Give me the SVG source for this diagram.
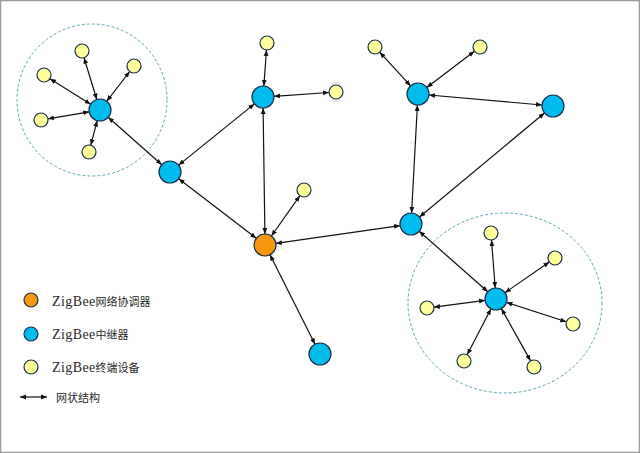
<svg xmlns="http://www.w3.org/2000/svg" width="640" height="453" viewBox="0 0 640 453">
<defs>
<style>
.relay{fill:#00bbee;stroke:#1a2f4a;stroke-width:1.2}
.coord{fill:#f7960f;stroke:#1a2f4a;stroke-width:1.2}
.end{fill:#ffff9c;stroke:#1a2f4a;stroke-width:1.2}
.zone{fill:none;stroke:#5aa8b0;stroke-width:1;stroke-dasharray:3,2}
.edge{stroke:#111;stroke-width:1.2;fill:none;marker-start:url(#ah);marker-end:url(#ah)}
.lbl{font-family:"Liberation Serif","Noto Sans CJK SC",serif;font-size:14px;letter-spacing:0.4px;fill:#2a2a2a}
.cjk{font-family:"Noto Sans CJK SC",sans-serif;font-size:11px;letter-spacing:0}
</style>
<marker id="ah" viewBox="0 0 6 6" refX="6" refY="3" markerWidth="6" markerHeight="6" markerUnits="userSpaceOnUse" orient="auto-start-reverse">
<path d="M0,0.6 L6,3 L0,5.4 z" fill="#111"/>
</marker>
</defs>
<rect x="0.5" y="0.5" width="639" height="452" fill="#fff" stroke="#999" stroke-width="1.5"/>
<g id="zones">
<ellipse class="zone" cx="92" cy="100" rx="75" ry="76"/>
<ellipse class="zone" cx="505" cy="303" rx="97" ry="90"/>
</g>
<g id="connectors">
<line class="edge" x1="96.8" y1="99.5" x2="84.0" y2="57.7"/>
<line class="edge" x1="106.7" y1="101.3" x2="129.7" y2="71.5"/>
<line class="edge" x1="90.7" y1="104.2" x2="49.9" y2="78.7"/>
<line class="edge" x1="89.2" y1="111.8" x2="47.9" y2="118.8"/>
<line class="edge" x1="97.2" y1="120.6" x2="90.8" y2="145.2"/>
<line class="edge" x1="108.2" y1="117.3" x2="161.8" y2="164.7"/>
<line class="edge" x1="178.6" y1="165.1" x2="254.4" y2="103.9"/>
<line class="edge" x1="178.7" y1="178.7" x2="256.3" y2="238.3"/>
<line class="edge" x1="263.8" y1="86.0" x2="266.5" y2="50.0"/>
<line class="edge" x1="274.0" y1="96.3" x2="329.0" y2="92.5"/>
<line class="edge" x1="263.1" y1="108" x2="264.9" y2="234"/>
<line class="edge" x1="271.4" y1="236.0" x2="299.9" y2="195.7"/>
<line class="edge" x1="275.9" y1="243.4" x2="400.1" y2="225.6"/>
<line class="edge" x1="270.0" y1="254.8" x2="315.0" y2="344.2"/>
<line class="edge" x1="410.6" y1="85.9" x2="379.7" y2="52.2"/>
<line class="edge" x1="426.8" y1="87.4" x2="474.4" y2="51.2"/>
<line class="edge" x1="429.0" y1="95.0" x2="542.0" y2="105.0"/>
<line class="edge" x1="417.4" y1="105.0" x2="411.6" y2="213.0"/>
<line class="edge" x1="544.5" y1="113.0" x2="419.5" y2="217.0"/>
<line class="edge" x1="419.2" y1="231.3" x2="487.8" y2="291.7"/>
<line class="edge" x1="495.2" y1="288.0" x2="491.5" y2="240.0"/>
<line class="edge" x1="505.0" y1="292.7" x2="549.3" y2="262.0"/>
<line class="edge" x1="485.1" y1="300.4" x2="433.9" y2="307.1"/>
<line class="edge" x1="506.5" y1="302.4" x2="566.3" y2="321.8"/>
<line class="edge" x1="491.0" y1="308.8" x2="467.2" y2="354.8"/>
<line class="edge" x1="501.4" y1="308.6" x2="530.6" y2="360.9"/>
</g>
<g id="relay-A"><circle class="relay" cx="100" cy="110" r="11"/></g>
<g id="relay-B"><circle class="relay" cx="170" cy="172" r="11"/></g>
<g id="relay-C"><circle class="relay" cx="263" cy="97" r="11"/></g>
<g id="coordinator"><circle class="coord" cx="265" cy="245" r="11"/></g>
<g id="relay-D"><circle class="relay" cx="418" cy="94" r="11"/></g>
<g id="relay-E"><circle class="relay" cx="553" cy="106" r="11"/></g>
<g id="relay-F"><circle class="relay" cx="411" cy="224" r="11"/></g>
<g id="relay-G"><circle class="relay" cx="496" cy="299" r="11"/></g>
<g id="relay-H"><circle class="relay" cx="320" cy="354" r="11"/></g>
<g id="end-1"><circle class="end" cx="82" cy="51" r="7"/></g>
<g id="end-2"><circle class="end" cx="134" cy="66" r="7"/></g>
<g id="end-3"><circle class="end" cx="44" cy="75" r="7"/></g>
<g id="end-4"><circle class="end" cx="41" cy="120" r="7"/></g>
<g id="end-5"><circle class="end" cx="89" cy="152" r="7"/></g>
<g id="end-6"><circle class="end" cx="267" cy="43" r="7"/></g>
<g id="end-7"><circle class="end" cx="336" cy="92" r="7"/></g>
<g id="end-8"><circle class="end" cx="304" cy="190" r="7"/></g>
<g id="end-9"><circle class="end" cx="375" cy="47" r="7"/></g>
<g id="end-10"><circle class="end" cx="480" cy="47" r="7"/></g>
<g id="end-11"><circle class="end" cx="491" cy="233" r="7"/></g>
<g id="end-12"><circle class="end" cx="555" cy="258" r="7"/></g>
<g id="end-13"><circle class="end" cx="427" cy="308" r="7"/></g>
<g id="end-14"><circle class="end" cx="573" cy="324" r="7"/></g>
<g id="end-15"><circle class="end" cx="464" cy="361" r="7"/></g>
<g id="end-16"><circle class="end" cx="534" cy="367" r="7"/></g>
<g id="legend">
<circle class="coord" cx="31" cy="300" r="7"/>
<text class="lbl" x="52" y="306">ZigBee<tspan class="cjk">网络协调器</tspan></text>
<circle class="relay" cx="31" cy="334" r="7"/>
<text class="lbl" x="52" y="339">ZigBee<tspan class="cjk">中继器</tspan></text>
<circle class="end" cx="31" cy="367" r="7"/>
<text class="lbl" x="52" y="372">ZigBee<tspan class="cjk">终端设备</tspan></text>
<line class="edge" x1="20" y1="397" x2="47" y2="397"/>
<text class="lbl" x="56" y="402"><tspan class="cjk" font-size="12.5">网状结构</tspan></text>
</g>
</svg>
